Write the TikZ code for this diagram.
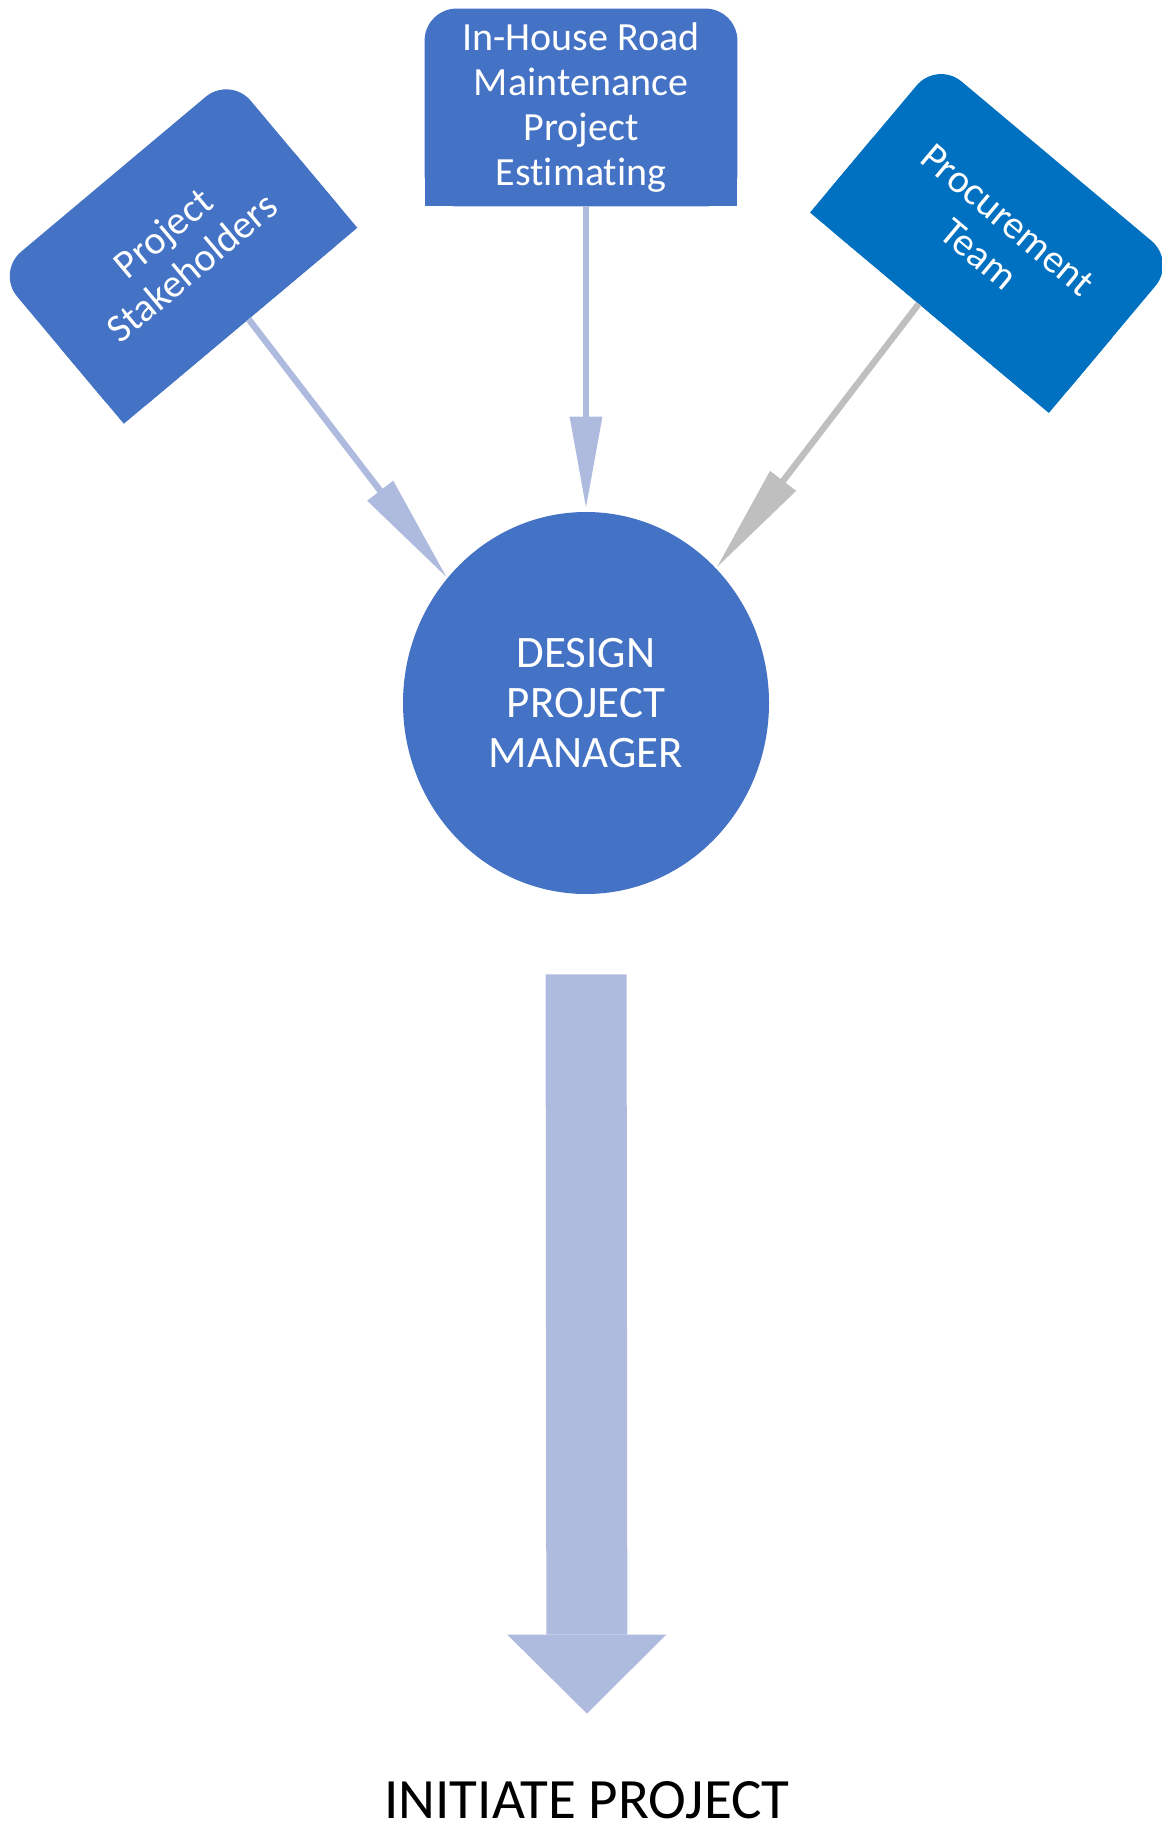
\documentclass[tikz,border=0pt]{standalone}
\usepackage{fontspec}
\setmainfont{Carlito}[Ligatures=NoCommon]
\usetikzlibrary{arrows.meta,shapes.geometric,backgrounds}
\definecolor{boxblue}{HTML}{4472C4}
\definecolor{procblue}{HTML}{0070C0}
\definecolor{linkblue}{HTML}{AFBADF}
\definecolor{linkgray}{HTML}{BFBFBF}
\begin{document}
\begin{tikzpicture}[
                            x=0.5pt, y=-0.5pt,
                            >={Triangle[length=55pt,width=15.5pt]},
                            topbox/.style={rectangle, text=white, align=center, inner sep=0pt,
                                minimum width=156pt, minimum height=98.5pt,
                                font=\fontsize{20}{22.5}\selectfont},
                            link/.style={->, line width=3.2pt, color=linkblue}
                        ]
                        \useasboundingbox (0,0) rectangle (1161,1823);
                        % Blocks
                        \node [topbox] (est) at (581,107.5) {In-House Road\\Maintenance\\Project\\Estimating};
                        \node [topbox, minimum width=152pt, rotate=40] (stake) at (177,250) {Project\\Stakeholders};
                        \node [topbox, minimum width=155.5pt, rotate=-40] (proc) at (993,237) {Procurement\\Team};
                        \node [ellipse, fill=boxblue, text=white, align=center, minimum width=183pt, minimum height=191pt,
                            font=\fontsize{22.5}{25}\selectfont] (dpm) at (586,703) {DESIGN\\PROJECT\\MANAGER};
                        \node [anchor=base, inner sep=0pt, font=\fontsize{28.5}{34}\selectfont] (init) at (587,1818) {INITIATE PROJECT};

                        % Box fills, round on the top side only
                        \begin{scope}[on background layer]
                        \foreach \nd/\col in {est/boxblue, stake/boxblue, proc/procblue} {
                            \fill [\col, rounded corners=16pt] (\nd.south west) -- (\nd.north west) -- (\nd.north east) -- (\nd.south east) -- cycle;
                            \fill [\col] (\nd.west) -- (\nd.south west) -- (\nd.south east) -- (\nd.east) -- cycle;
                        }
                        \end{scope}

                        % Connections
                        \draw [link] (stake.276) -- (dpm.138);
                        \draw [link, -{Triangle[length=46pt,width=15.5pt]}, shorten >=1.5pt] (est.south -| dpm.north) -- (dpm.north);
                        \draw [link, color=linkgray] (proc.262) -- (dpm.46);
                        \draw [linkblue, line width=40.5pt, -{Triangle[length=39.5pt,width=79.5pt,line width=0pt]},
                            shorten <=40pt, shorten >=33.5pt] (dpm.south) -- (init.north);
                    \end{tikzpicture}
\end{document}
